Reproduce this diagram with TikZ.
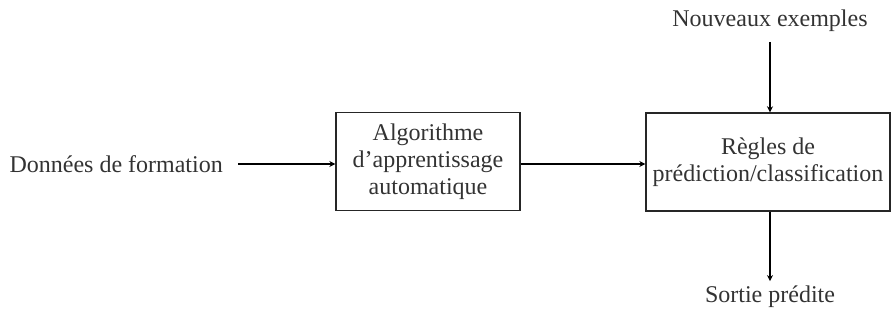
\documentclass[tikz,border=0pt]{standalone}
\usepackage{fontspec}
\setmainfont{Liberation Serif}
\usetikzlibrary{arrows.meta}
\begin{document}
\begin{tikzpicture}[x=1pt,y=1pt,
  every node/.style={font=\fontsize{24}{27}\selectfont, text=black!80},
  box/.style={draw=black!85, line width=1.4pt, align=center, inner sep=0pt},
  lbl/.style={inner sep=5pt},
  arr/.style={draw=black, line width=1.4pt, -{Stealth[length=6pt,width=6pt]}}]
\useasboundingbox (0,0) rectangle (891,320);
\node[box, minimum width=184pt, minimum height=98pt] (b1) at (428,158.5)
  {Algorithme\\d'apprentissage\\automatique};
\node[box, minimum width=244pt, minimum height=98pt] (b2) at (768,158)
  {Règles de\\prédiction/classification};
\node[lbl, anchor=east, inner sep=0pt] (don) at (223,156) {Données de formation};
\node[lbl, anchor=base] (nouv) at (770,293) {Nouveaux exemples};
\node[lbl, anchor=base] (sort) at (770,17) {Sortie prédite};
\coordinate (ds) at (238,156);
\draw[arr] (ds) -- (b1.west |- ds);
\draw[arr] (b1.east |- ds) -- (b2.west |- ds);
\coordinate (nt) at (770,278);
\draw[arr] (nt) -- (nt |- b2.north);
\draw[arr] (nt |- b2.south) -- (sort.north);
\end{tikzpicture}
\end{document}
